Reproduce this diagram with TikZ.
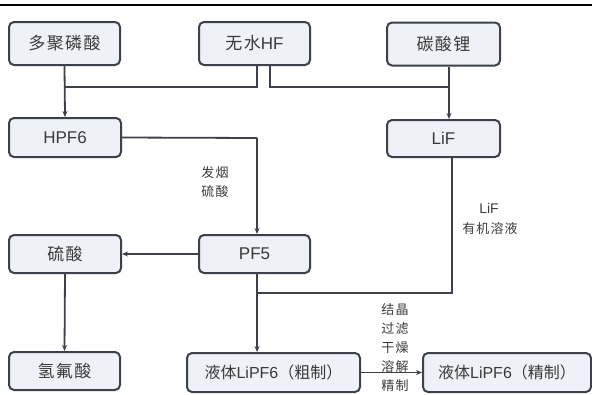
\documentclass[tikz,border=0pt]{standalone}
\usepackage{fontspec}
\setmainfont{Liberation Sans}
\newfontfamily\cjk[LetterSpace=8]{Noto Sans CJK SC}
\newfontfamily\cjkn{Noto Sans CJK SC}
\usetikzlibrary{arrows.meta}
\definecolor{boxfill}{HTML}{EEF1F7}
\definecolor{boxline}{HTML}{3C414C}
\definecolor{txt}{HTML}{3A3A3A}
\begin{document}
\begin{tikzpicture}[x=1pt,y=-1pt,
  box/.style={draw=boxline,line width=2pt,fill=boxfill,rounded corners=5pt,text=txt,font=\fontsize{17}{19}\selectfont},
  conn/.style={draw=boxline,line width=1.8pt},
  arr/.style={conn,-{Stealth[length=6pt,width=5pt]}},
  lab/.style={text=txt,font=\cjk\fontsize{13}{19}\selectfont,align=center,inner sep=0pt}]
\useasboundingbox (0,0) rectangle (592,394);
\draw[line width=2.5pt,black] (0,5) -- (592,5);
\node[box,minimum width=111pt,minimum height=43pt] (pa) at (64.5,43.5) {\cjk 多聚磷酸};
\node[box,minimum width=111pt,minimum height=43pt] (hf) at (254.5,43.5) {\cjk 无水\fontspec{Liberation Sans}HF};
\node[box,minimum width=113pt,minimum height=43pt] (lc) at (443.5,44) {\cjk 碳酸锂};
\node[box,minimum width=112pt,minimum height=39pt] (hpf) at (65,137.5) {HPF6};
\node[box,minimum width=113pt,minimum height=37pt] (lif) at (443.5,138.5) {LiF};
\node[box,minimum width=112pt,minimum height=38pt] (sa) at (65,254) {\cjk 硫酸};
\node[box,minimum width=111pt,minimum height=38pt] (pf) at (254.5,254) {PF5};
\node[box,minimum width=111pt,minimum height=38pt] (hfa) at (64.5,371) {\cjk 氢氟酸};
\node[box,minimum width=173pt,minimum height=39pt,inner sep=2pt,font=\fontsize{16}{18}\selectfont] (crude) at (273.5,372.5) {\cjkn 液体\fontspec{Liberation Sans}LiPF6\cjkn（粗制）};
\node[box,minimum width=168pt,minimum height=39pt,inner sep=2pt,font=\fontsize{16}{18}\selectfont] (pure) at (507,372.5) {\cjkn 液体\fontspec{Liberation Sans}LiPF6\cjkn（精制）};
\coordinate (j1) at (65,87);
\coordinate (j2) at (449,87);
\coordinate (j3) at (257,138);
\coordinate (j4) at (452,293);
\coordinate (j5) at (257,293);
% connectors
\draw[arr] (pa.south) -- (hpf.north);
\draw[conn] (hf.south -| 257,0) -- (257,87) -- (j1);
\draw[conn] (hf.south -| 270,0) -- (270,87) -- (j2);
\draw[arr] (lc.south -| j2) -- (lif.north -| j2);
\draw[conn] (hpf.east) -- (j3);
\draw[arr] (j3) -- (pf.north -| j3);
\draw[arr] (pf.west) -- (sa.east);
\draw[arr] (sa.south) -- (hfa.north);
\draw[arr] (pf.south -| j5) -- (crude.north -| j5);
\draw[conn] (j5) -- (j4) -- (lif.south -| j4);
\draw[arr] (crude.east) -- (pure.west);
% labels
\node[lab] (l1) at (215,182) {发烟\\硫酸};
\node[lab,font=\fontsize{14}{16}\selectfont] (l2a) at (489,208) {LiF};
\node[lab] (l2b) at (490,229) {有机溶液};
\node[lab] (l3) at (395,348) {结晶\\过滤\\干燥\\溶解\\精制};
\end{tikzpicture}
\end{document}
